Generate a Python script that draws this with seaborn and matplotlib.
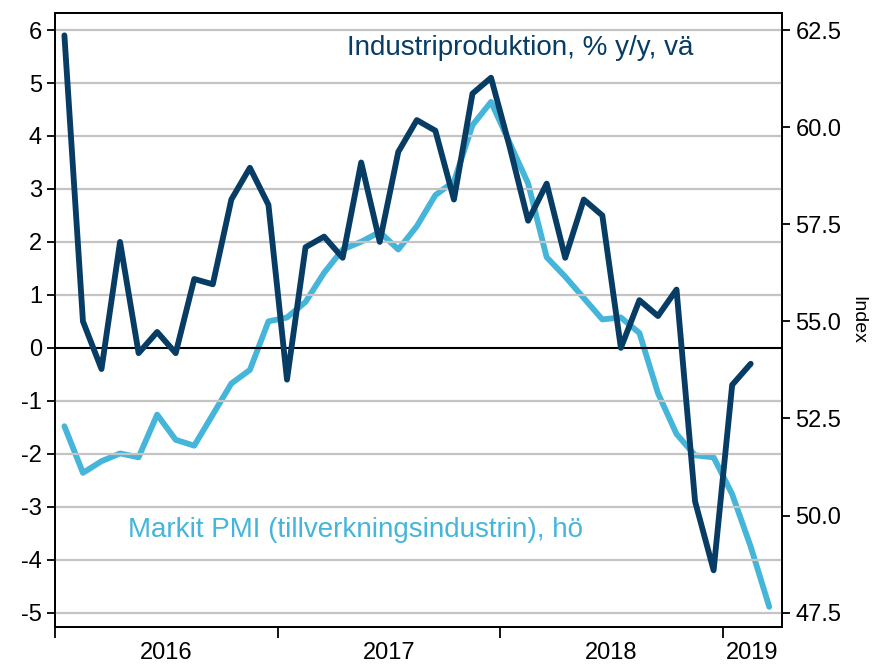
import matplotlib
import matplotlib.pyplot as plt
import numpy as np
import pandas as pd
import seaborn as sns

matplotlib.use("Agg")

# --- DATA (monthly, Jan 2016 onwards) ---
INDPROD = [
    5.9, 0.5, -0.4, 2.0, -0.1, 0.3, -0.1, 1.3, 1.2, 2.8, 3.4, 2.7,
    -0.6, 1.9, 2.1, 1.7, 3.5, 2.0, 3.7, 4.3, 4.1, 2.8, 4.8, 5.1,
    3.8, 2.4, 3.1, 1.7, 2.8, 2.5, 0.0, 0.9, 0.6, 1.1, -2.9, -4.2,
    -0.7, -0.3,
]
PMI = [
    52.3, 51.1, 51.4, 51.6, 51.5, 52.6, 51.95, 51.8, 52.6, 53.4, 53.75, 55.0,
    55.1, 55.5, 56.25, 56.85, 57.05, 57.3, 56.85, 57.45, 58.25, 58.6, 60.05, 60.65,
    59.6, 58.55, 56.65, 56.15, 55.6, 55.05, 55.1, 54.7, 53.15, 52.1, 51.55, 51.5,
    50.55, 49.2, 47.65,
]
YEARS = ["2016", "2017", "2018", "2019"]
LEFT_TICKS = [6, 5, 4, 3, 2, 1, 0, -1, -2, -3, -4, -5]
RIGHT_TICKS = [62.5, 60.0, 57.5, 55.0, 52.5, 50.0, 47.5]
# -----------------------------------------

DARK = "#073c64"
LIGHT = "#45b5da"

ip = pd.DataFrame({"month": np.arange(len(INDPROD)) + 0.5, "value": INDPROD})
pmi = pd.DataFrame({"month": np.arange(len(PMI)) + 0.5, "value": PMI})

sns.set_style("ticks")
plt.rcParams["font.family"] = ["Liberation Sans", "DejaVu Sans"]
for key in ("text.color", "axes.labelcolor", "xtick.color", "ytick.color"):
    plt.rcParams[key] = "black"

fig = plt.figure(figsize=(8.75, 6.68), dpi=100)
ax = fig.add_axes([0.063, 0.0614, 0.831, 0.919])
ax2 = ax.twinx()

ax.set_ylim(-5.27, 6.32)
ax.set_yticks(LEFT_TICKS)
ax.set_yticklabels([str(t) for t in LEFT_TICKS], fontsize=17)
for t in LEFT_TICKS:
    if t == 0:
        ax.axhline(0, color="black", lw=1.5, zorder=1)
    else:
        ax.axhline(t, color="#c4c4c4", lw=1.6, zorder=0)

# right axis maps 47.5..62.5 onto -5..6
lo, hi = ax.get_ylim()
ax2.set_ylim(47.5 + (lo + 5) * 15 / 11, 47.5 + (hi + 5) * 15 / 11)
ax2.set_yticks(RIGHT_TICKS)
ax2.set_yticklabels([f"{t:.1f}" for t in RIGHT_TICKS], fontsize=17)
ax2.set_ylabel("Index", rotation=270, fontsize=14, labelpad=18)

sns.lineplot(data=ip, x="month", y="value", ax=ax, color=DARK, lw=4.2, zorder=3)
sns.lineplot(data=pmi, x="month", y="value", ax=ax2, color=LIGHT, lw=4.2, zorder=2)
ax.set_zorder(ax2.get_zorder() + 1)
ax.patch.set_visible(False)

ax.set_xlim(0, 39.2)
ax.set_xticks([0, 12, 24, 36])
ax.set_xticklabels([])
ax.set_xticks([6, 18, 30, 37.6], minor=True)
ax.set_xticklabels(YEARS, minor=True, fontsize=17)
ax.tick_params(axis="x", which="minor", length=0, pad=11)
ax.tick_params(axis="x", which="major", length=8, width=1.3)
ax.tick_params(axis="y", length=6, width=1.3)
ax2.tick_params(axis="y", length=6, width=1.3)
ax.set_xlabel("")
ax.set_ylabel("")

for a in (ax, ax2):
    for s in a.spines.values():
        s.set_visible(True)
        s.set_color("black")
        s.set_linewidth(1.3)

ax.text(0.402, 0.943, "Industriproduktion, % y/y, vä", transform=ax.transAxes,
        color=DARK, fontsize=20, ha="left", va="center")
ax.text(0.1, 0.158, "Markit PMI (tillverkningsindustrin), hö", transform=ax.transAxes,
        color=LIGHT, fontsize=20, ha="left", va="center")

fig.savefig("out.png", dpi=100)
